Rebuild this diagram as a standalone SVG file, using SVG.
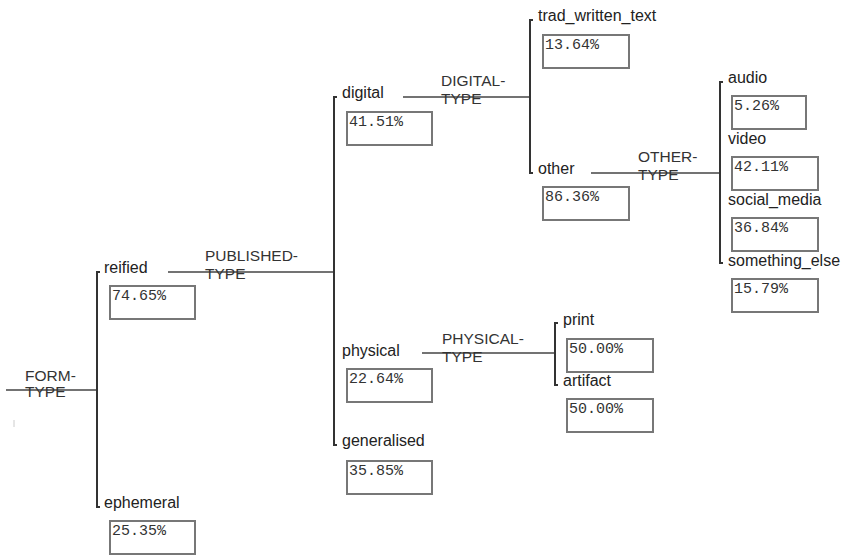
<svg xmlns="http://www.w3.org/2000/svg" width="841" height="555" viewBox="0 0 841 555">
<style>
.lbl{font-family:"Liberation Sans",Arial,sans-serif;font-size:16px;fill:#222}
.typ{font-family:"Liberation Sans",Arial,sans-serif;font-size:15.5px;fill:#333}
.pct{font-family:"Liberation Mono","Courier New",monospace;font-size:15px;fill:#333}
.box{fill:#fff;stroke:#777;stroke-width:2}
.br{fill:none;stroke:#333;stroke-width:2}
.hl{fill:none;stroke:#444;stroke-width:1.5}
</style>
<rect width="841" height="555" fill="#fff"/>
<g id="connectors">
<line class="hl" x1="6" y1="390" x2="97" y2="390"/>
<path class="br" d="M100,272 H97 V507 H100"/>
<line class="hl" x1="168" y1="272" x2="334" y2="272"/>
<path class="br" d="M337,97 H334 V445 H337"/>
<line class="hl" x1="403" y1="97" x2="530" y2="97"/>
<path class="br" d="M533,20 H530 V173 H533"/>
<line class="hl" x1="591" y1="173" x2="720" y2="173"/>
<path class="br" d="M723,82 H720 V263 H723"/>
<line class="hl" x1="422" y1="353" x2="555" y2="353"/>
<path class="br" d="M558,323 H555 V385 H558"/>
<line x1="14" y1="420" x2="14" y2="427" stroke="#ccc" stroke-width="1"/>
</g>
<g id="form-type"><text class="typ" x="25" y="381">FORM-</text><text class="typ" x="25" y="397">TYPE</text></g>
<g id="published-type"><text class="typ" x="205" y="261">PUBLISHED-</text><text class="typ" x="205" y="279">TYPE</text></g>
<g id="digital-type"><text class="typ" x="441" y="86">DIGITAL-</text><text class="typ" x="441" y="104">TYPE</text></g>
<g id="other-type"><text class="typ" x="638" y="162">OTHER-</text><text class="typ" x="638" y="180">TYPE</text></g>
<g id="physical-type"><text class="typ" x="442" y="344">PHYSICAL-</text><text class="typ" x="442" y="362">TYPE</text></g>

<g id="reified"><text class="lbl" x="104" y="273">reified</text><rect class="box" x="110" y="286" width="85" height="33"/><text class="pct" x="112" y="300">74.65%</text></g>
<g id="ephemeral"><text class="lbl" x="104" y="508">ephemeral</text><rect class="box" x="110" y="521" width="85" height="33"/><text class="pct" x="112" y="535">25.35%</text></g>
<g id="digital"><text class="lbl" x="342" y="98">digital</text><rect class="box" x="347" y="112" width="85" height="33"/><text class="pct" x="349" y="126">41.51%</text></g>
<g id="physical"><text class="lbl" x="342" y="356">physical</text><rect class="box" x="347" y="369" width="85" height="33"/><text class="pct" x="349" y="383">22.64%</text></g>
<g id="generalised"><text class="lbl" x="342" y="446">generalised</text><rect class="box" x="347" y="461" width="85" height="33"/><text class="pct" x="349" y="475">35.85%</text></g>
<g id="trad_written_text"><text class="lbl" x="538" y="21">trad_written_text</text><rect class="box" x="543" y="35" width="86" height="33"/><text class="pct" x="545" y="49">13.64%</text></g>
<g id="other"><text class="lbl" x="538" y="174">other</text><rect class="box" x="543" y="187" width="86" height="33"/><text class="pct" x="545" y="201">86.36%</text></g>
<g id="audio"><text class="lbl" x="728" y="83">audio</text><rect class="box" x="732" y="96" width="74" height="33"/><text class="pct" x="734" y="110">5.26%</text></g>
<g id="video"><text class="lbl" x="728" y="144">video</text><rect class="box" x="732" y="157" width="86" height="33"/><text class="pct" x="734" y="171">42.11%</text></g>
<g id="social_media"><text class="lbl" x="728" y="205">social_media</text><rect class="box" x="732" y="218" width="86" height="33"/><text class="pct" x="734" y="232">36.84%</text></g>
<g id="something_else"><text class="lbl" x="728" y="266">something_else</text><rect class="box" x="732" y="279" width="86" height="33"/><text class="pct" x="734" y="293">15.79%</text></g>
<g id="print"><text class="lbl" x="563" y="325">print</text><rect class="box" x="567" y="339" width="86" height="33"/><text class="pct" x="569" y="353">50.00%</text></g>
<g id="artifact"><text class="lbl" x="563" y="386">artifact</text><rect class="box" x="567" y="399" width="86" height="33"/><text class="pct" x="569" y="413">50.00%</text></g>
</svg>
